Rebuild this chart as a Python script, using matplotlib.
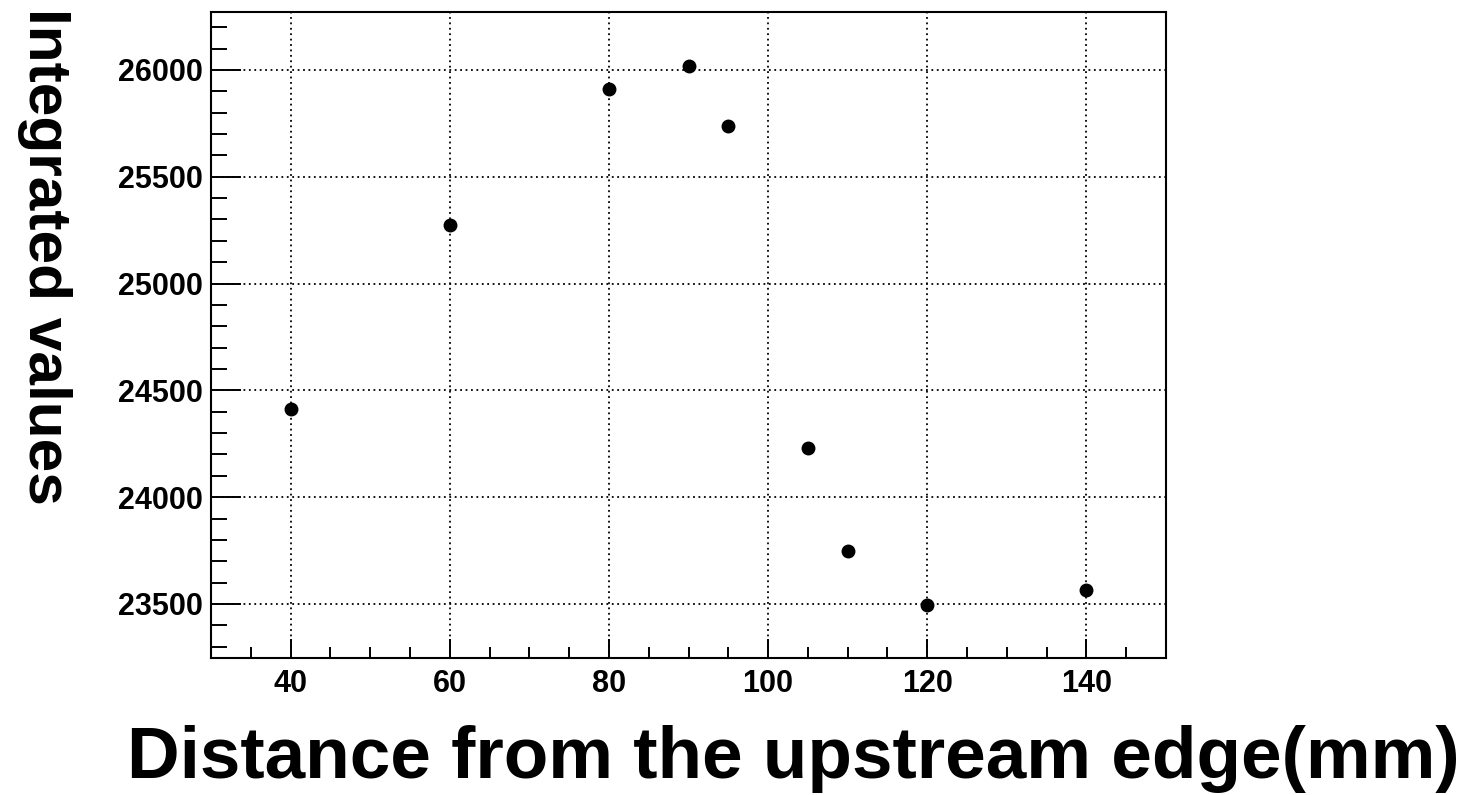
import matplotlib.pyplot as plt
from matplotlib.ticker import MultipleLocator

# distance (mm) and integrated values
distance = [40, 60, 80, 90, 95, 105, 110, 120, 140]
integrated = [24413, 25274, 25911, 26019, 25738, 24230, 23748, 23495, 23566]

fig = plt.figure(figsize=(14.78, 7.95), dpi=100)
ax = fig.add_axes([0.1428, 0.1723, 0.6461, 0.8126])

ax.plot(distance, integrated, 'o', color='black', markersize=9, zorder=3)

ax.set_xlim(30, 150)
ax.set_ylim(23247, 26271)

ax.xaxis.set_major_locator(MultipleLocator(20))
ax.xaxis.set_minor_locator(MultipleLocator(5))
ax.yaxis.set_major_locator(MultipleLocator(500))
ax.yaxis.set_minor_locator(MultipleLocator(100))

ax.grid(True, which='major', color='black', linestyle=(0, (1, 2)), linewidth=1.3)

ax.tick_params(axis='x', which='major', direction='in', length=13.7, width=1.4,
               labelsize=22, pad=8, top=False)
ax.tick_params(axis='x', which='minor', direction='in', length=8, width=1.4, top=False)
ax.tick_params(axis='y', which='major', direction='in', length=21.6, width=1.4,
               labelsize=22, pad=6, right=False)
ax.tick_params(axis='y', which='minor', direction='in', length=11.5, width=1.4, right=False)

for lab in ax.get_xticklabels() + ax.get_yticklabels():
    lab.set_fontweight('bold')
    lab.set_family('Liberation Sans')

for s in ax.spines.values():
    s.set_linewidth(1.5)

fig.text(1460 / 1478, 2 / 795, 'Distance from the upstream edge(mm)', ha='right', va='bottom',
         fontsize=52.5, fontweight='bold', family='Liberation Sans')
fig.text(44 / 1478, 1 - 8 / 795, 'Integrated values', ha='center', va='top', rotation=-90,
         fontsize=43.5, fontweight='bold', family='Liberation Sans')

fig.savefig('out.png', dpi=100)
